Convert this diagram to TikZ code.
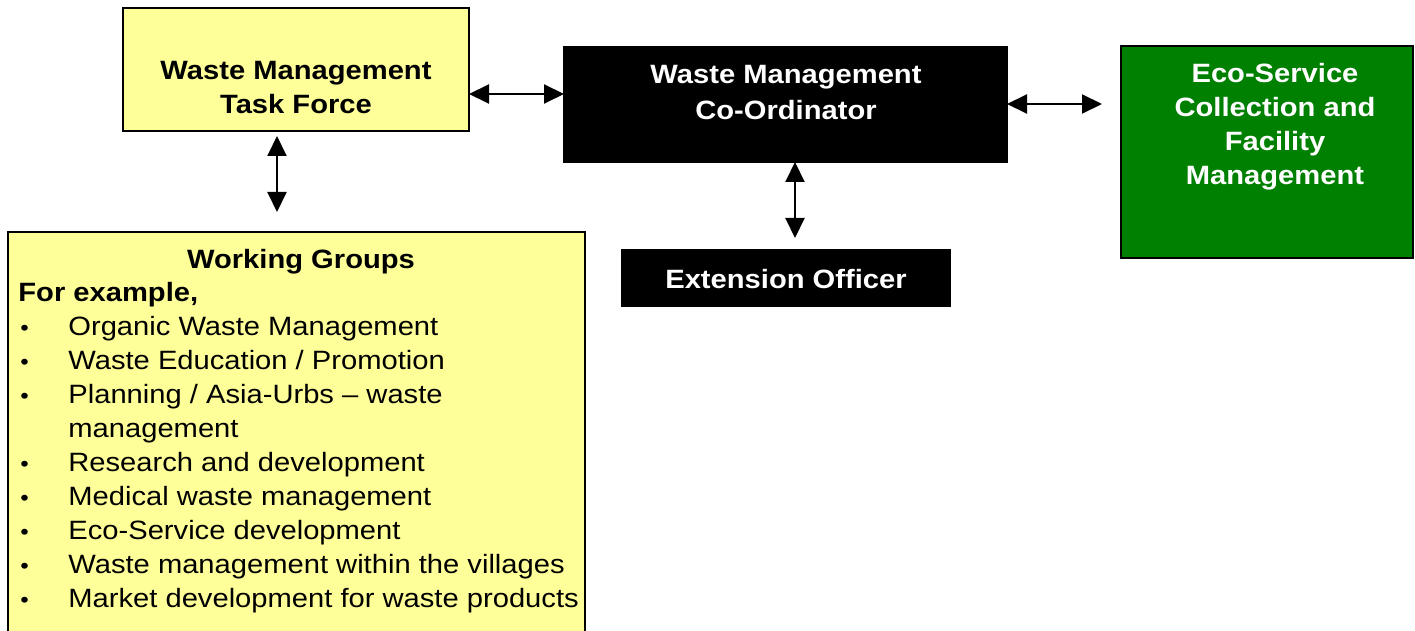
\documentclass[tikz,border=0pt]{standalone}
\usepackage{fontspec}
\setmainfont[FakeStretch=1.1]{Liberation Sans}
\usetikzlibrary{arrows.meta}
\definecolor{paleyellow}{RGB}{255,255,153}
\definecolor{ecogreen}{RGB}{0,128,0}
\newcommand{\wgitem}[1]{\makebox[25pt][l]{\hspace{1pt}{\fontsize{11}{17}\selectfont •}}#1}
\begin{document}
\begin{tikzpicture}[x=0.5pt,y=-0.5pt,
  box/.style={draw=black, line width=0.75pt, anchor=north west, inner sep=0pt, outer sep=0pt},
  lbl/.style={anchor=north, inner sep=0pt, align=center, font=\bfseries\fontsize{13.25}{17}\selectfont},
  dbl/.style={line width=1pt, {Triangle[length=10pt,width=9.5pt]}-{Triangle[length=10pt,width=9.5pt]}}]
\useasboundingbox (0,0) rectangle (1415,631);
% boxes
\node[box, fill=paleyellow, minimum width=173pt, minimum height=61.5pt] (tf) at (123,8) {};
\node[box, fill=black, minimum width=221.5pt, minimum height=57.5pt] (coord) at (564,47) {};
\node[box, fill=ecogreen, minimum width=146pt, minimum height=106pt] (eco) at (1121,46) {};
\node[box, fill=black, minimum width=164pt, minimum height=28pt] (ext) at (622,250) {};
\node[box, fill=paleyellow, minimum width=288.5pt, minimum height=210pt] (wg) at (8,232) {};
% texts
\node[lbl] (tft) at (296,61) {Waste Management\\Task Force};
\node[lbl, text=white, font=\bfseries\fontsize{13.25}{17.75}\selectfont] (coordt) at (786,65) {Waste Management\\Co-Ordinator};
\node[lbl, text=white] (ecot) at (1275,63) {Eco-Service\\Collection and\\Facility\\Management};
\node[lbl, text=white] (extt) at (786,269) {Extension Officer};
\node[lbl] (wgt) at (301,249) {Working Groups};
\node[anchor=north west, inner sep=0pt, align=left, font=\fontsize{13.25}{17}\selectfont] (wgl) at (18,282) {%
\textbf{For example,}\\
\wgitem{Organic Waste Management}\\
\wgitem{Waste Education / Promotion}\\
\wgitem{Planning / Asia-Urbs -- waste}\\
\hspace*{25pt}management\\
\wgitem{Research and development}\\
\wgitem{Medical waste management}\\
\wgitem{Eco-Service development}\\
\wgitem{Waste management within the villages}\\
\wgitem{Market development for waste products}};
% connectors
\draw[dbl] (tf.east |- 0,94) -- (coord.west |- 0,94);
\draw[dbl, shorten >=9.5pt] (coord.east |- 0,104) -- (eco.west |- 0,104);
\draw[dbl, shorten <=2.5pt, shorten >=10pt] (tf.south -| 277,0) -- (wg.north -| 277,0);
\draw[dbl, shorten >=6pt] (coord.south -| 795,0) -- (ext.north -| 795,0);
\end{tikzpicture}
\end{document}
